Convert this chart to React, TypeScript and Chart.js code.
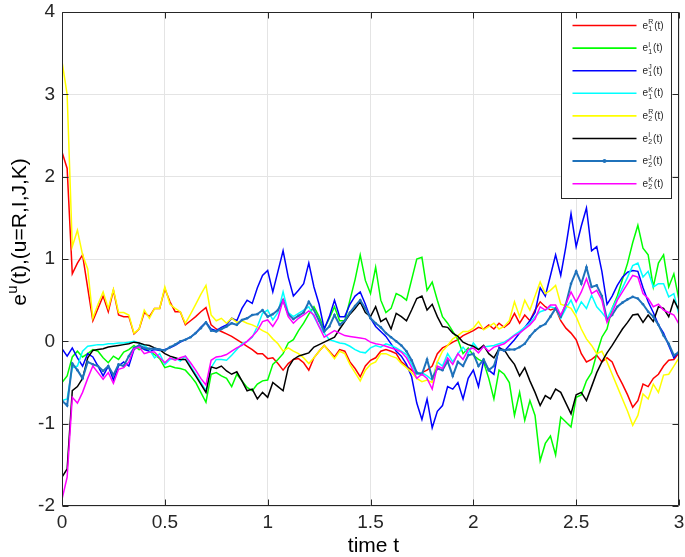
import React, { useEffect, useRef } from 'react';
import { Chart, registerables } from 'chart.js';

Chart.register(...registerables);

const FONT = '"Liberation Sans", Arial, Helvetica, sans-serif';

// time grid, step 0.025 from 0 to 3
const T: number[] = Array.from({ length: 121 }, (_, i) => Math.round(i * 25) / 1000);
const X_TICKS = [0, 0.5, 1, 1.5, 2, 2.5, 3];
const Y_TICKS = [-2, -1, 0, 1, 2, 3, 4];

const e1R = [
  2.30, 2.10, 0.82, 0.95, 1.05, 0.65, 0.25, 0.40, 0.55, 0.36,
  0.62, 0.32, 0.30, 0.30, 0.09, 0.15, 0.35, 0.30, 0.40, 0.40,
  0.64, 0.48, 0.36, 0.36, 0.20, 0.25, 0.30, 0.36, 0.41, 0.20,
  0.15, 0.12, 0.09, 0.06, 0.02, -0.02, -0.06, -0.10, -0.15, -0.15,
  -0.21, -0.20, -0.27, -0.35, -0.27, -0.22, -0.21, -0.26, -0.35, -0.20,
  -0.12, -0.05, -0.12, -0.19, -0.10, -0.12, -0.25, -0.33, -0.43, -0.30,
  -0.23, -0.20, -0.12, -0.10, -0.12, -0.15, -0.25, -0.30, -0.35, -0.40,
  -0.38, -0.35, -0.30, -0.15, -0.08, -0.05, -0.01, 0.02, 0.07, 0.10,
  0.13, 0.17, 0.15, 0.20, 0.15, 0.22, 0.17, 0.22, 0.34, 0.22,
  0.32, 0.25, 0.38, 0.48, 0.42, 0.38, 0.40, 0.25, 0.16, 0.10,
  0.02, -0.15, -0.25, -0.22, -0.17, -0.25, -0.20, -0.25, -0.40, -0.52,
  -0.65, -0.80, -0.72, -0.52, -0.55, -0.45, -0.40, -0.30, -0.23, -0.22,
  -0.14,
];

const e1I = [
  -0.50, -0.42, -0.19, -0.12, -0.19, -0.15, -0.10, -0.12, -0.20, -0.26,
  -0.18, -0.22, -0.13, -0.10, -0.05, -0.10, -0.08, -0.12, -0.16, -0.21,
  -0.32, -0.30, -0.32, -0.33, -0.35, -0.42, -0.50, -0.62, -0.74, -0.40,
  -0.38, -0.42, -0.45, -0.55, -0.40, -0.48, -0.56, -0.60, -0.52, -0.48,
  -0.47, -0.28, -0.22, -0.15, -0.02, 0.02, 0.13, 0.22, 0.33, 0.42,
  0.30, 0.15, 0.28, 0.42, 0.25, 0.25, 0.50, 0.75, 1.05, 0.74,
  0.58, 0.90, 0.50, 0.35, 0.40, 0.58, 0.55, 0.50, 0.75, 1.00,
  1.02, 0.62, 0.72, 0.50, 0.30, 0.22, 0.12, 0.02, -0.15, -0.08,
  -0.17, -0.22, -0.25, -0.45, -0.70, -0.35, -0.40, -0.50, -0.90, -0.62,
  -0.96, -0.72, -0.90, -1.45, -1.24, -1.15, -1.38, -0.92, -0.98, -1.04,
  -0.68, -0.65, -0.48, -0.38, -0.15, 0.05, 0.15, 0.40, 0.55, 0.75,
  0.95, 1.20, 1.41, 1.13, 1.05, 0.66, 0.95, 1.05, 0.66, 0.82,
  0.50,
];

const e1J = [
  -0.09, -0.18, -0.08, -0.20, -0.30, -0.15, -0.19, -0.30, -0.42, -0.30,
  -0.47, -0.30, -0.25, -0.30, -0.10, -0.05, -0.10, -0.12, -0.10, -0.11,
  -0.10, -0.08, -0.05, -0.01, 0.02, 0.05, 0.10, 0.17, 0.23, 0.15,
  0.13, 0.17, 0.20, 0.28, 0.25, 0.40, 0.50, 0.46, 0.65, 0.80,
  0.86, 0.60, 0.85, 1.10, 0.78, 0.55, 0.62, 0.70, 0.95, 0.66,
  0.45, 0.15, 0.30, 0.50, 0.30, 0.30, 0.45, 0.55, 0.60, 0.45,
  0.28, 0.18, 0.12, 0.06, -0.03, -0.12, -0.18, -0.28, -0.43, -0.75,
  -0.95, -0.70, -1.05, -0.85, -0.78, -0.55, -0.58, -0.50, -0.70, -0.45,
  -0.35, -0.55, -0.23, -0.35, -0.40, -0.07, -0.12, -0.05, 0.02, 0.10,
  0.17, 0.25, 0.35, 0.65, 0.55, 0.80, 1.05, 0.80, 1.15, 1.55,
  1.15, 1.40, 1.62, 1.10, 1.15, 0.85, 0.45, 0.55, 0.68, 0.78,
  0.84, 0.86, 0.85, 0.65, 0.48, 0.35, 0.20, 0.10, -0.05, -0.20,
  -0.12,
];

const e1K = [
  -0.72, -0.70, -0.32, -0.30, -0.12, -0.06, -0.05, -0.04, -0.04, -0.03,
  -0.03, -0.02, -0.02, -0.01, 0.00, -0.02, -0.05, -0.10, -0.20, -0.15,
  -0.28, -0.22, -0.20, -0.24, -0.18, -0.30, -0.40, -0.50, -0.60, -0.32,
  -0.22, -0.22, -0.23, -0.17, -0.10, -0.03, 0.00, 0.05, 0.18, 0.34,
  0.38, 0.26, 0.35, 0.60, 0.35, 0.30, 0.34, 0.38, 0.42, 0.30,
  0.18, 0.10, 0.02, 0.00, -0.02, -0.03, -0.06, -0.10, -0.13, -0.14,
  -0.08, -0.05, -0.07, -0.03, -0.05, -0.08, -0.12, -0.16, -0.28, -0.40,
  -0.38, -0.42, -0.47, -0.25, -0.30, -0.15, -0.25, -0.15, -0.07, -0.15,
  -0.02, -0.10, -0.07, -0.06, -0.05, -0.03, -0.01, 0.03, 0.08, 0.12,
  0.17, 0.22, 0.30, 0.36, 0.38, 0.42, 0.40, 0.28, 0.40, 0.50,
  0.35, 0.48, 0.40, 0.56, 0.42, 0.35, 0.27, 0.40, 0.52, 0.65,
  0.78, 0.92, 0.95, 0.78, 0.85, 0.66, 0.70, 0.70, 0.54, 0.58,
  0.32,
];

const e2R = [
  3.40, 3.00, 1.15, 1.35, 1.05, 0.88, 0.28, 0.45, 0.60, 0.40,
  0.63, 0.35, 0.35, 0.32, 0.10, 0.15, 0.38, 0.28, 0.40, 0.40,
  0.66, 0.45, 0.40, 0.36, 0.22, 0.33, 0.45, 0.57, 0.68, 0.32,
  0.25, 0.28, 0.22, 0.28, 0.23, 0.25, 0.22, 0.20, 0.17, 0.13,
  0.10, 0.03, -0.03, -0.12, -0.08, -0.12, -0.15, -0.20, -0.27, -0.20,
  -0.12, -0.05, -0.13, -0.21, -0.12, -0.15, -0.28, -0.38, -0.48, -0.35,
  -0.28, -0.25, -0.15, -0.15, -0.18, -0.20, -0.27, -0.32, -0.38, -0.45,
  -0.49, -0.47, -0.50, -0.25, -0.12, -0.05, 0.03, 0.07, 0.12, 0.12,
  0.16, 0.24, 0.14, 0.18, 0.22, 0.15, 0.18, 0.25, 0.48, 0.30,
  0.50, 0.38, 0.55, 0.72, 0.58, 0.62, 0.68, 0.45, 0.43, 0.40,
  0.30, 0.15, 0.03, -0.05, -0.15, -0.12, -0.25, -0.40, -0.55, -0.70,
  -0.85, -1.02, -0.90, -0.64, -0.70, -0.52, -0.62, -0.41, -0.40, -0.30,
  -0.20,
];

const e2I = [
  -1.65, -1.55, -0.60, -0.55, -0.45, -0.20, -0.11, -0.10, -0.09, -0.07,
  -0.06, -0.05, -0.04, -0.03, -0.01, -0.02, -0.04, -0.05, -0.08, -0.10,
  -0.15, -0.18, -0.20, -0.22, -0.22, -0.32, -0.42, -0.52, -0.62, -0.31,
  -0.33, -0.30, -0.36, -0.40, -0.37, -0.48, -0.60, -0.58, -0.70, -0.62,
  -0.68, -0.50, -0.55, -0.60, -0.32, -0.22, -0.18, -0.16, -0.14, -0.07,
  -0.04, -0.01, 0.02, 0.05, 0.15, 0.24, 0.33, 0.40, 0.48, 0.35,
  0.30, 0.42, 0.24, 0.28, 0.15, 0.34, 0.30, 0.25, 0.38, 0.52,
  0.55, 0.38, 0.45, 0.30, 0.18, 0.17, 0.10, 0.06, -0.01, -0.04,
  -0.06, -0.10, -0.05, -0.15, -0.20, -0.09, -0.10, -0.20, -0.28, -0.42,
  -0.32, -0.48, -0.62, -0.78, -0.66, -0.70, -0.58, -0.62, -0.75, -0.88,
  -0.65, -0.62, -0.72, -0.55, -0.38, -0.25, -0.14, -0.05, 0.05, 0.15,
  0.23, 0.32, 0.33, 0.23, 0.32, 0.24, 0.42, 0.40, 0.30, 0.50,
  0.38,
];

const e2J = [
  -0.72, -0.78, -0.27, -0.35, -0.45, -0.25, -0.28, -0.30, -0.36, -0.30,
  -0.41, -0.28, -0.30, -0.18, -0.08, -0.05, -0.08, -0.09, -0.09, -0.10,
  -0.11, -0.07, -0.04, 0.00, 0.02, 0.05, 0.10, 0.16, 0.23, 0.13,
  0.12, 0.15, 0.18, 0.22, 0.20, 0.26, 0.28, 0.32, 0.33, 0.38,
  0.30, 0.33, 0.38, 0.50, 0.33, 0.27, 0.31, 0.35, 0.48, 0.38,
  0.25, 0.12, 0.18, 0.32, 0.20, 0.25, 0.35, 0.43, 0.50, 0.40,
  0.28, 0.22, 0.17, 0.10, 0.05, 0.00, -0.05, -0.12, -0.23, -0.38,
  -0.40, -0.22, -0.45, -0.33, -0.35, -0.24, -0.42, -0.25, -0.30, -0.17,
  -0.15, -0.30, -0.22, -0.35, -0.30, -0.10, -0.11, -0.10, -0.10, -0.07,
  -0.03, 0.06, 0.13, 0.18, 0.21, 0.30, 0.40, 0.30, 0.45, 0.70,
  0.85, 0.70, 0.90, 0.66, 0.68, 0.55, 0.26, 0.32, 0.42, 0.47,
  0.51, 0.54, 0.52, 0.45, 0.36, 0.30, 0.20, 0.07, -0.03, -0.17,
  -0.13,
];

const e2K = [
  -1.92, -1.65, -0.68, -0.75, -0.62, -0.45, -0.30, -0.38, -0.46, -0.38,
  -0.51, -0.34, -0.32, -0.25, -0.09, -0.07, -0.15, -0.13, -0.13, -0.20,
  -0.26, -0.20, -0.23, -0.20, -0.18, -0.26, -0.35, -0.45, -0.53, -0.23,
  -0.19, -0.18, -0.16, -0.12, -0.08, -0.05, 0.00, 0.06, 0.13, 0.24,
  0.26, 0.18, 0.28, 0.50, 0.30, 0.22, 0.28, 0.32, 0.37, 0.32,
  0.18, 0.05, 0.09, 0.13, 0.10, 0.07, 0.06, 0.05, 0.04, 0.03,
  -0.01, -0.03, -0.04, -0.06, -0.08, -0.10, -0.13, -0.20, -0.32, -0.45,
  -0.40, -0.45, -0.58, -0.30, -0.33, -0.20, -0.28, -0.15, -0.22, -0.10,
  -0.08, -0.14, -0.06, -0.12, -0.07, -0.05, -0.03, 0.02, 0.07, 0.10,
  0.15, 0.20, 0.27, 0.42, 0.38, 0.44, 0.44, 0.32, 0.45, 0.60,
  0.48, 0.60, 0.76, 0.58, 0.62, 0.50, 0.23, 0.35, 0.50, 0.60,
  0.70, 0.80, 0.78, 0.58, 0.52, 0.42, 0.45, 0.38, 0.35, 0.32,
  0.21,
];

const SERIES = [
  { sub: '1', sup: 'R', color: '#ff0000', values: e1R, marker: false },
  { sub: '1', sup: 'I', color: '#00ff00', values: e1I, marker: false },
  { sub: '1', sup: 'J', color: '#0000ff', values: e1J, marker: false },
  { sub: '1', sup: 'K', color: '#00ffff', values: e1K, marker: false },
  { sub: '2', sup: 'R', color: '#ffff00', values: e2R, marker: false },
  { sub: '2', sup: 'I', color: '#000000', values: e2I, marker: false },
  { sub: '2', sup: 'J', color: '#1f72bb', values: e2J, marker: true },
  { sub: '2', sup: 'K', color: '#ff00ff', values: e2K, marker: false },
];

const AXIS_COLOR = '#262626';

const decorPlugin = {
  id: 'decor',
  afterDraw(chart: any) {
    const { ctx, chartArea: a, scales } = chart;
    const xs = scales.x;
    const ys = scales.y;
    ctx.save();
    const L = Math.round(a.left) + 0.5;
    const R = Math.round(a.right) - 0.5;
    const Tp = Math.round(a.top) + 0.5;
    const B = Math.round(a.bottom) - 0.5;

    // legend box
    const lw = 110;
    const lh = 186;
    const lx = R - 7 - lw;
    const ly = Tp;
    ctx.fillStyle = '#ffffff';
    ctx.fillRect(lx, ly, lw, lh);
    ctx.strokeStyle = AXIS_COLOR;
    ctx.lineWidth = 1;
    ctx.strokeRect(lx, ly, lw, lh);
    SERIES.forEach((s, i) => {
      const cy = ly + 13 + i * 22.6;
      ctx.strokeStyle = s.color;
      ctx.lineWidth = s.marker ? 2 : 1.6;
      ctx.beginPath();
      ctx.moveTo(lx + 11, cy);
      ctx.lineTo(lx + 75, cy);
      ctx.stroke();
      if (s.marker) {
        ctx.fillStyle = s.color;
        ctx.beginPath();
        ctx.arc(lx + 43, cy, 2, 0, Math.PI * 2);
        ctx.fill();
      }
      ctx.fillStyle = '#262626';
      ctx.textBaseline = 'alphabetic';
      ctx.textAlign = 'left';
      let tx = lx + 81;
      const base = cy + 3;
      ctx.font = `10px ${FONT}`;
      ctx.fillText('e', tx, base);
      tx += ctx.measureText('e').width + 0.3;
      ctx.font = `7px ${FONT}`;
      ctx.fillText(s.sup, tx, base - 4.5);
      ctx.fillText(s.sub, tx, base + 2.5);
      tx += Math.max(ctx.measureText(s.sup).width, ctx.measureText(s.sub).width) + 0.8;
      ctx.font = `10px ${FONT}`;
      ctx.fillText('(t)', tx, base);
    });

    // axes frame and inward ticks
    ctx.strokeStyle = AXIS_COLOR;
    ctx.lineWidth = 1;
    ctx.beginPath();
    ctx.rect(L, Tp, R - L, B - Tp);
    ctx.stroke();
    const tl = 6;
    ctx.beginPath();
    for (const v of X_TICKS) {
      const px = Math.round(xs.getPixelForValue(v)) + 0.5;
      ctx.moveTo(px, B);
      ctx.lineTo(px, B - tl);
      ctx.moveTo(px, Tp);
      ctx.lineTo(px, Tp + tl);
    }
    for (const v of Y_TICKS) {
      const py = Math.round(ys.getPixelForValue(v)) + 0.5;
      ctx.moveTo(L, py);
      ctx.lineTo(L + tl, py);
      ctx.moveTo(R, py);
      ctx.lineTo(R - tl, py);
    }
    ctx.stroke();

    // axis titles
    ctx.fillStyle = '#000000';
    ctx.font = `21px ${FONT}`;
    ctx.textAlign = 'center';
    ctx.textBaseline = 'alphabetic';
    ctx.fillText('time t', (a.left + a.right) / 2 + 3, 552);

    // y title with superscript
    ctx.save();
    ctx.translate(26, 232);
    ctx.rotate(-Math.PI / 2);
    ctx.textAlign = 'left';
    const big = `21px ${FONT}`;
    const small = `15px ${FONT}`;
    ctx.font = big;
    const w1 = ctx.measureText('e').width;
    const w3 = ctx.measureText('(t),(u=R,I,J,K)').width;
    ctx.font = small;
    const w2 = ctx.measureText('u').width;
    const total = w1 + w2 + w3 + 1;
    let x0 = -total / 2;
    ctx.font = big;
    ctx.fillText('e', x0, 0);
    x0 += w1 + 0.5;
    ctx.font = small;
    ctx.fillText('u', x0, -9);
    x0 += w2 + 0.5;
    ctx.font = big;
    ctx.fillText('(t),(u=R,I,J,K)', x0, 0);
    ctx.restore();

    ctx.restore();
  },
};

export default function App() {
  const ref = useRef<HTMLCanvasElement | null>(null);
  useEffect(() => {
    if (!ref.current) return;
    const datasets = SERIES.map((s, i) => ({
      label: `e${s.sub}${s.sup}(t)`,
      data: s.values.map((v, k) => ({ x: T[k], y: v })),
      borderColor: s.color,
      backgroundColor: s.color,
      borderWidth: s.marker ? 2 : 1.5,
      pointRadius: s.marker ? 1.3 : 0,
      pointBorderWidth: 0,
      pointBackgroundColor: s.color,
      pointHoverRadius: 0,
      tension: 0,
      fill: false,
      order: SERIES.length - i,
    }));
    const chart = new Chart(ref.current, {
      type: 'line',
      data: { datasets },
      options: {
        responsive: false,
        animation: false,
        events: [],
        layout: { padding: { top: 12, right: 6, left: 0, bottom: 0 } },
        plugins: {
          legend: { display: false },
          tooltip: { enabled: false },
        },
        scales: {
          x: {
            type: 'linear',
            min: 0,
            max: 3,
            afterBuildTicks: (s: any) => {
              s.ticks = X_TICKS.map((v) => ({ value: v }));
            },
            afterFit: (s: any) => {
              s.height = 51;
              s.paddingLeft = 0;
              s.paddingRight = 0;
              s.paddingTop = 0;
              s.paddingBottom = 0;
            },
            ticks: {
              color: AXIS_COLOR,
              font: { family: FONT, size: 19 },
              padding: 5,
              maxRotation: 0,
              autoSkip: false,
              callback: (v: any) => String(v),
            },
            grid: { color: '#e4e4e4', drawTicks: false, lineWidth: 1 },
            border: { display: false },
          },
          y: {
            type: 'linear',
            min: -2,
            max: 4,
            afterBuildTicks: (s: any) => {
              s.ticks = Y_TICKS.map((v) => ({ value: v }));
            },
            afterFit: (s: any) => {
              s.width = 62;
              s.paddingLeft = 0;
              s.paddingRight = 0;
              s.paddingTop = 0;
              s.paddingBottom = 0;
            },
            ticks: {
              color: AXIS_COLOR,
              font: { family: FONT, size: 19 },
              padding: 7,
              autoSkip: false,
              callback: (v: any) => String(v),
            },
            grid: { color: '#e4e4e4', drawTicks: false, lineWidth: 1 },
            border: { display: false },
          },
        },
      },
      plugins: [decorPlugin],
    });
    return () => chart.destroy();
  }, []);

  return (
    <div style={{ position: 'fixed', left: 0, top: 0, width: 685, height: 557, background: '#ffffff' }}>
      <canvas ref={ref} width={685} height={557} style={{ width: 685, height: 557, display: 'block' }} />
    </div>
  );
}
